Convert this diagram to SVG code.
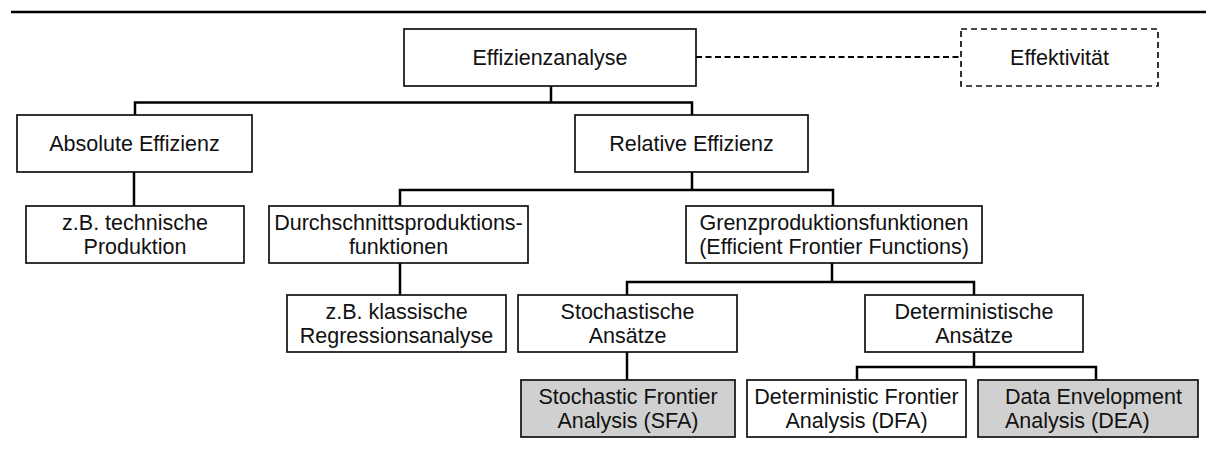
<svg xmlns="http://www.w3.org/2000/svg" width="1216" height="459" viewBox="0 0 1216 459">
<style>
.box{fill:#fff;stroke:#111;stroke-width:1.7}
.gray{fill:#d0d0d0}
.dash{stroke-dasharray:6,4}
.t{font-family:"Liberation Sans",Arial,sans-serif;font-size:21.5px;fill:#111;text-anchor:middle}
.tl{text-anchor:start}
.c{fill:none;stroke:#000;stroke-width:2.5}
.cd{fill:none;stroke:#000;stroke-width:2.2;stroke-dasharray:6,3.5}
</style>
<rect width="1216" height="459" fill="#fff"/>
<line x1="11" y1="12" x2="1206" y2="12" stroke="#000" stroke-width="2.5"/>
<g id="connectors">
<path class="c" d="M551,86 V102.5 M135,115 V102.5 H692 V115"/>
<path class="cd" d="M696,57 H961"/>
<path class="c" d="M134,172 V206"/>
<path class="c" d="M692,172 V190 M400,206 V190 H833 V206"/>
<path class="c" d="M400,263 V295"/>
<path class="c" d="M832,263 V282 M627,295 V282 H974 V295"/>
<path class="c" d="M627,352 V380"/>
<path class="c" d="M974,352 V367 M857,380 V367 H1096 V380"/>
</g>
<g id="n-effizienzanalyse">
<rect class="box" x="404" y="29" width="292" height="57"/>
<text class="t" x="550" y="65">Effizienzanalyse</text>
</g>
<g id="n-effektivitaet">
<rect class="box dash" x="961" y="29" width="197" height="57"/>
<text class="t" x="1059.5" y="65">Effektivität</text>
</g>
<g id="n-absolute">
<rect class="box" x="17" y="115" width="235" height="57"/>
<text class="t" x="134.5" y="151">Absolute Effizienz</text>
</g>
<g id="n-relative">
<rect class="box" x="575" y="115" width="233" height="57"/>
<text class="t" x="691.5" y="151">Relative Effizienz</text>
</g>
<g id="n-technische">
<rect class="box" x="26" y="206" width="218" height="57"/>
<text class="t" x="135" y="229.5">z.B. technische</text>
<text class="t" x="135" y="253.5">Produktion</text>
</g>
<g id="n-durchschnitt">
<rect class="box" x="269" y="206" width="259" height="57"/>
<text class="t" x="398.5" y="229.5">Durchschnittsproduktions-</text>
<text class="t" x="398.5" y="253.5">funktionen</text>
</g>
<g id="n-grenz">
<rect class="box" x="686" y="206" width="296" height="57"/>
<text class="t" x="834" y="229.5">Grenzproduktionsfunktionen</text>
<text class="t" x="834" y="253.5">(Efficient Frontier Functions)</text>
</g>
<g id="n-klassisch">
<rect class="box" x="287" y="295" width="219" height="57"/>
<text class="t" x="396.5" y="318.5">z.B. klassische</text>
<text class="t" x="396.5" y="342.5">Regressionsanalyse</text>
</g>
<g id="n-stochastisch">
<rect class="box" x="518" y="295" width="219" height="57"/>
<text class="t" x="627.5" y="318.5">Stochastische</text>
<text class="t" x="627.5" y="342.5">Ansätze</text>
</g>
<g id="n-deterministisch">
<rect class="box" x="865" y="295" width="218" height="57"/>
<text class="t" x="974" y="318.5">Deterministische</text>
<text class="t" x="974" y="342.5">Ansätze</text>
</g>
<g id="n-sfa">
<rect class="box gray" x="521" y="380" width="214" height="57"/>
<text class="t" x="628" y="403.5">Stochastic Frontier</text>
<text class="t" x="628" y="427.5">Analysis (SFA)</text>
</g>
<g id="n-dfa">
<rect class="box" x="747" y="380" width="219" height="57"/>
<text class="t" x="856.5" y="403.5">Deterministic Frontier</text>
<text class="t" x="856.5" y="427.5">Analysis (DFA)</text>
</g>
<g id="n-dea">
<rect class="box gray" x="978" y="380" width="220" height="57"/>
<text class="t tl" x="1005" y="403.5">Data Envelopment</text>
<text class="t tl" x="1005" y="427.5">Analysis (DEA)</text>
</g>
</svg>
